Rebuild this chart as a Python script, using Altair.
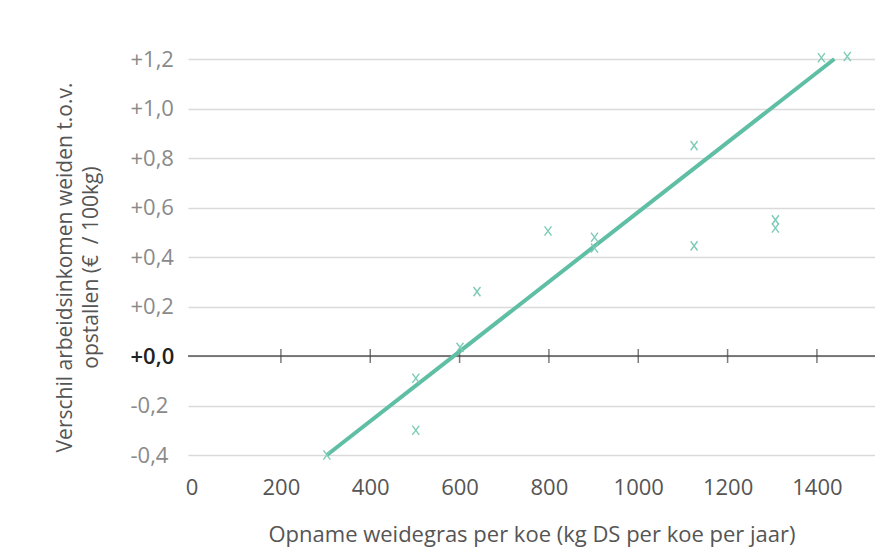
import altair as alt
import pandas as pd

# scatter points (kg DS per koe per jaar, € / 100kg)
pt_x = [303, 502, 502, 601, 639, 798, 902, 902, 1125, 1125, 1307, 1307, 1410, 1468]
pt_y = [-0.40, -0.09, -0.30, 0.035, 0.26, 0.505, 0.48, 0.436, 0.85, 0.445, 0.55, 0.517, 1.205, 1.21]

# regression line end points
line_x = [303, 1439]
line_y = [-0.40, 1.20]

x_ticks = [0, 200, 400, 600, 800, 1000, 1200, 1400]
tick_marks = [200, 400, 600, 800, 1000, 1200, 1400]
y_ticks = [-0.4, -0.2, 0.0, 0.2, 0.4, 0.6, 0.8, 1.0, 1.2]

FONT = "Open Sans"
TEAL = "#5fbfa5"
MARK = "#7ccbb6"

pts = pd.DataFrame({"x": pt_x, "y": pt_y})
reg = pd.DataFrame({"x": line_x, "y": line_y})
tk = pd.DataFrame({"x": tick_marks, "y": [0.0] * len(tick_marks)})
zero = pd.DataFrame({"y": [0.0]})

x_enc = alt.X(
    "x:Q",
    scale=alt.Scale(domain=[-8, 1530], nice=False, zero=False),
    axis=alt.Axis(
        values=x_ticks,
        format="d",
        title="Opname weidegras per koe (kg DS per koe per jaar)",
        grid=False,
        ticks=False,
        domain=False,
        labelPadding=22,
        labelFontSize=22,
        labelColor="#555555",
        labelFont=FONT,
        titleFont=FONT,
        titleFontSize=22,
        titleFontWeight="normal",
        titleColor="#555555",
        titleBaseline="middle",
        titleY=79,
    ),
)

y_enc = alt.Y(
    "y:Q",
    scale=alt.Scale(domain=[-0.4, 1.2], nice=False, zero=False),
    axis=alt.Axis(
        values=y_ticks,
        title=["Verschil arbeidsinkomen weiden t.o.v.", "opstallen (€\u00a0\u00a0/ 100kg)"],
        grid=True,
        gridColor="#dadada",
        gridWidth=1.5,
        ticks=False,
        domain=False,
        labelAlign="left",
        labelPadding=58,
        labelFontSize=22,
        labelFont=FONT,
        labelExpr="(datum.value < -0.0001 ? '-' : '+') + replace(format(abs(datum.value), '.1f'), '.', ',')",
        labelColor=alt.ExprRef(expr="abs(datum.value) < 0.001 ? '#222222' : '#8a8a8a'"),
        labelFontWeight=alt.ExprRef(expr="abs(datum.value) < 0.001 ? 600 : 400"),
        titleFont=FONT,
        titleFontSize=21,
        titleFontWeight="normal",
        titleColor="#555555",
        titleAngle=270,
        titleAlign="center",
        titleBaseline="top",
        titleX=-134,
        titleY=208,
        titleLineHeight=26,
    ),
)

zero_rule = alt.Chart(zero).mark_rule(color="#555555", strokeWidth=1.5).encode(y=y_enc)

tick_layer = alt.Chart(tk).mark_tick(
    orient="vertical", color="#444444", size=14, thickness=1.5
).encode(x=x_enc, y=y_enc)

reg_line = alt.Chart(reg).mark_line(color=TEAL, strokeWidth=4).encode(x=x_enc, y=y_enc)

points = alt.Chart(pts).mark_point(
    shape="M-0.75,-1L0.75,1M0.75,-1L-0.75,1",
    size=85,
    color=MARK,
    strokeWidth=1.4,
    filled=False,
    opacity=1,
).encode(x=x_enc, y=y_enc)

chart = (
    alt.layer(zero_rule, tick_layer, reg_line, points)
    .properties(
        width=687,
        height=396,
        autosize=alt.AutoSizeParams(type="none"),
        padding={"left": 180, "top": 51, "right": 0, "bottom": 96},
        background="white",
    )
    .configure_view(stroke=None)
)

chart.save("out.html", embed_options={"renderer": "svg", "actions": False})
